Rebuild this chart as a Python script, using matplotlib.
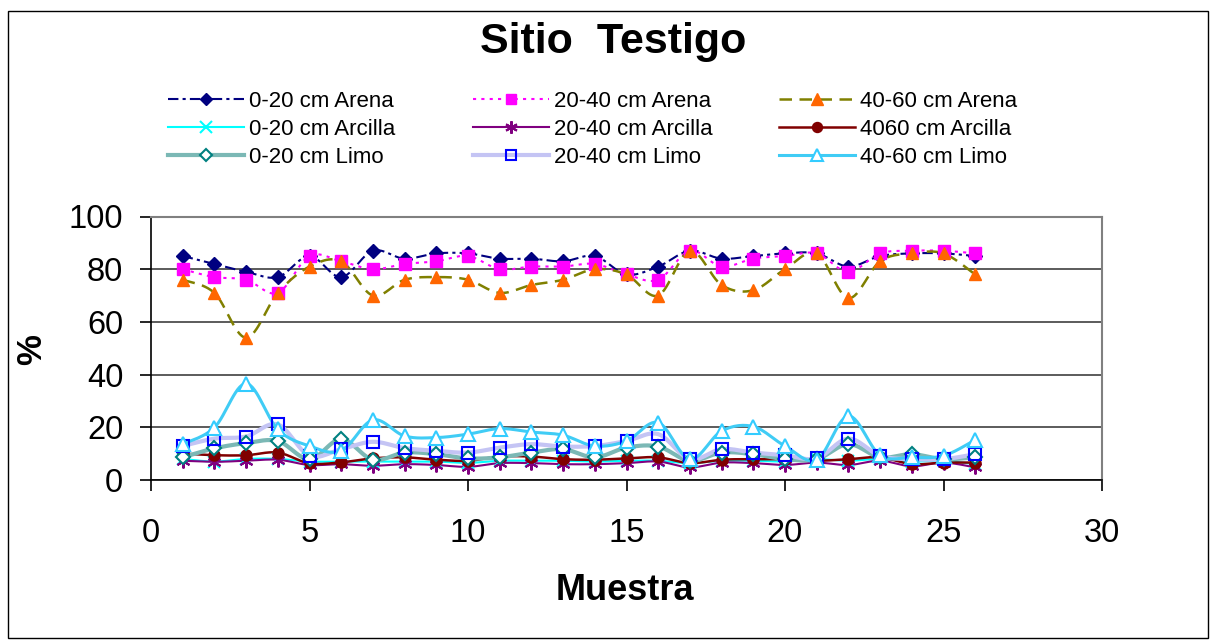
"""Sitio Testigo - texture by sample."""

import matplotlib
matplotlib.use("Agg")
import matplotlib.pyplot as plt
import numpy as np
from matplotlib.lines import Line2D
from matplotlib.patches import Rectangle

plt.rcParams["font.family"] = ["Liberation Sans", "DejaVu Sans"]

muestra = list(range(1, 27))

arena_0_20 = [85, 82, 79, 77, 85, 77, 87, 84, 86, 86, 84, 84, 83, 85, 78, 81,
              87, 84, 85, 86, 86, 81, 85, 86, 86, 85]
arena_20_40 = [80, 77, 76, 71, 85, 83, 80, 82, 83, 85, 80, 81, 81, 82, 78, 76,
               87, 81, 84, 85, 86, 79, 86, 87, 87, 86]
arena_40_60 = [76, 71, 54, 71, 81, 83, 70, 76, 77, 76, 71, 74, 76, 80, 78, 70,
               87, 74, 72, 80, 86, 69, 83, 86, 86, 78]
arcilla_0_20 = [8, 7, 8, 8, 7, 7, 7, 7, 7, 6.5, 7.3, 7.3, 7.3, 7, 7.3, 7.3,
                6.4, 7.3, 7.3, 7, 7.9, 7.3, 8, 7, 7.3, 6]
arcilla_20_40 = [7.3, 6.9, 7.3, 7.7, 5.7, 6, 5.4, 6, 5.7, 5, 6.4, 6.4, 6, 6,
                 6.4, 7, 4.8, 6.6, 6.4, 5.7, 6.6, 5.7, 7.3, 5.2, 6.6, 4.8]
arcilla_40_60 = [10, 9.4, 9.4, 10.4, 6.3, 6.7, 8.2, 8.6, 7.7, 7.3, 8.9, 8.9,
                 7.9, 7.7, 8.2, 8.6, 6.4, 7.7, 7.9, 7.9, 7.3, 7.9, 8.6, 6, 6.6, 6.6]
limo_0_20 = [8.6, 12, 14, 14.8, 7.9, 15.5, 7.7, 10.4, 9.8, 8.2, 8.6, 10.4, 11.7,
             8.6, 12.3, 12.7, 7.3, 10.4, 9.8, 7.9, 7.9, 13.6, 8.6, 9.8, 7.9, 8.6]
limo_20_40 = [12.9, 15.7, 16.5, 21.1, 9.2, 11.7, 14.5, 12.1, 11.1, 10.4, 12.3,
              13.6, 12.7, 12.9, 14.8, 17.4, 7.9, 11.7, 10.4, 9.4, 8.2, 15.7,
              9.2, 7.9, 7.9, 9.8]
limo_40_60 = [13.6, 19.9, 36.6, 19.2, 12.9, 11.1, 22.8, 16.7, 16.1, 17.4, 19.5,
              18.2, 17, 12.9, 14.8, 21.8, 7.9, 18.6, 20.3, 12.9, 7.7, 24.3,
              9.4, 8.6, 9.2, 15.2]


def smooth(x, y, n=16):
    """Excel-like smoothed line (Catmull-Rom as cubic Bezier)."""
    pts = np.column_stack([x, y]).astype(float)
    ext = np.vstack([pts[0], pts, pts[-1]])
    out = []
    t = np.linspace(0, 1, n)[:, None]
    for i in range(len(pts) - 1):
        p0, p1, p2, p3 = ext[i], ext[i + 1], ext[i + 2], ext[i + 3]
        c1 = p1 + (p2 - p0) / 6
        c2 = p2 - (p3 - p1) / 6
        seg = ((1 - t) ** 3) * p1 + 3 * ((1 - t) ** 2) * t * c1 \
            + 3 * (1 - t) * t ** 2 * c2 + t ** 3 * p2
        out.append(seg if i == 0 else seg[1:])
    out = np.vstack(out)
    return out[:, 0], out[:, 1]


# label, data, line style, marker style
series = [
    ("0-20 cm Arena", arena_0_20,
     dict(color="#000080", lw=1.5, ls=(0, (5, 2, 1.5, 2))),
     dict(marker="D", ms=7, mfc="#000080", mec="#000080")),
    ("20-40 cm Arena", arena_20_40,
     dict(color="#FF00FF", lw=1.5, ls=(0, (1.5, 2.5))),
     dict(marker="s", ms=8, mfc="#FF00FF", mec="#FF00FF")),
    ("40-60 cm Arena", arena_40_60,
     dict(color="#808000", lw=1.8, ls=(0, (5, 3))),
     dict(marker="^", ms=9, mfc="#FF6600", mec="#FF6600")),
    ("0-20 cm Arcilla", arcilla_0_20,
     dict(color="#00FFFF", lw=1.5, ls="-"),
     dict(marker="x", ms=9, mfc="#00FFFF", mec="#00FFFF", mew=1.5)),
    ("20-40 cm Arcilla", arcilla_20_40,
     dict(color="#800080", lw=1.5, ls="-"),
     dict(marker=(6, 2, 0), ms=10, mfc="#800080", mec="#800080", mew=1.5)),
    ("4060 cm Arcilla", arcilla_40_60,
     dict(color="#800000", lw=1.8, ls="-"),
     dict(marker="o", ms=8, mfc="#800000", mec="#800000")),
    ("0-20 cm Limo", limo_0_20,
     dict(color="#7BB8B5", lw=3, ls="-"),
     dict(marker="D", ms=7, mfc="white", mec="#008080", mew=1.5)),
    ("20-40 cm Limo", limo_20_40,
     dict(color="#C4C4F4", lw=3, ls="-"),
     dict(marker="s", ms=8, mfc="none", mec="#0000FF", mew=1.5)),
    ("40-60 cm Limo", limo_40_60,
     dict(color="#40CCF5", lw=2.2, ls="-"),
     dict(marker="^", ms=10, mfc="white", mec="#33CCFF", mew=1.5)),
]

W, H = 1211, 641
fig = plt.figure(figsize=(W / 100, H / 100), dpi=100)
ax = fig.add_axes([151 / W, 1 - 480 / H, (1102 - 151) / W, (480 - 216.5) / H])

handles = []
for label, vals, lstyle, mstyle in series:
    sx, sy = smooth(muestra, vals)
    ax.plot(sx, sy, zorder=2, solid_capstyle="butt", **lstyle)
    ax.plot(muestra, vals, ls="none", zorder=3, **mstyle)
    handles.append(Line2D([], [], label=label, **lstyle, **mstyle))

ax.set_xlim(0, 30)
ax.set_ylim(0, 100)
ax.set_xticks(range(0, 31, 5))
ax.set_yticks(range(0, 101, 20))
ax.yaxis.grid(True, color="#404040", lw=1.2)
ax.set_axisbelow(True)
ax.tick_params(labelsize=23.5, direction="out", length=8, width=1.2)
ax.tick_params(axis="x", pad=19)
ax.tick_params(axis="y", pad=12)
for side in ("top", "right"):
    ax.spines[side].set_color("#808080")
    ax.spines[side].set_linewidth(1.5)
for side in ("left", "bottom"):
    ax.spines[side].set_color("black")
    ax.spines[side].set_linewidth(1.2)

fig.text(613 / W, 1 - 42 / H, "Sitio  Testigo", ha="center", va="center",
         fontsize=31, fontweight="bold")
fig.text(625 / W, 1 - 590 / H, "Muestra", ha="center", va="center",
         fontsize=26, fontweight="bold")
fig.text(32 / W, 1 - 350 / H, "%", ha="center", va="center", rotation=90,
         fontsize=25, fontweight="bold")

# legend: one column per depth
col_x = [168, 473, 779]
for c in range(3):
    fig.legend(handles=handles[c::3], loc="upper left",
               bbox_to_anchor=(col_x[c] / W, 1 - 91 / H), frameon=False,
               fontsize=16, handlelength=3.4, handletextpad=0.25,
               borderpad=0, borderaxespad=0, labelspacing=0.32,
               markerscale=0.9)

fig.patches.append(Rectangle((8 / W, 1 - 638 / H), 1200 / W, 627 / H,
                             transform=fig.transFigure, fill=False,
                             ec="black", lw=1))

fig.savefig("out.png", dpi=100)
